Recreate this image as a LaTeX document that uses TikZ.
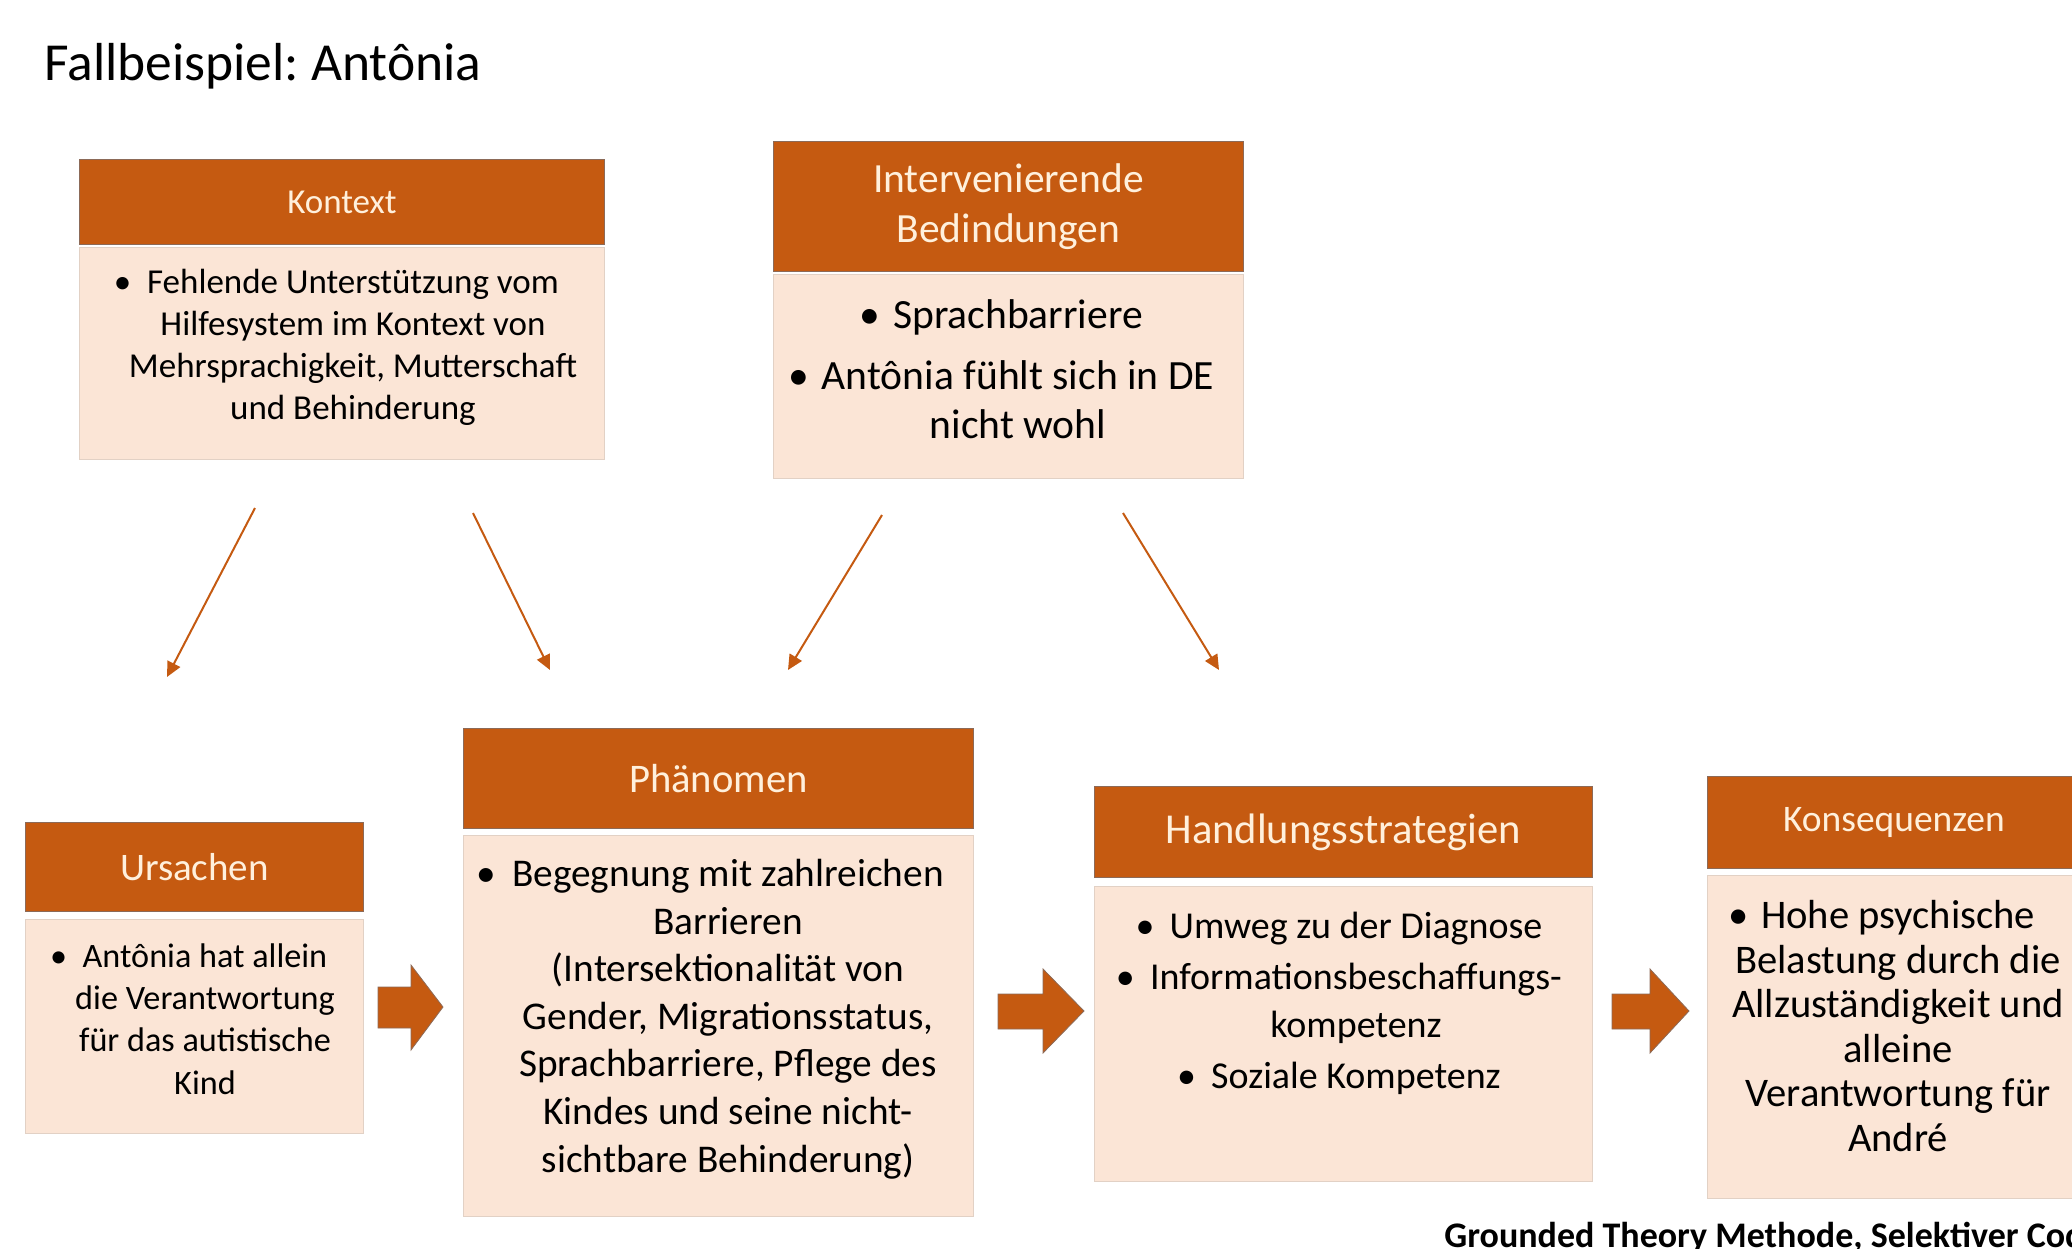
\documentclass[tikz,border=0pt]{standalone}
\usepackage{fontspec}
\setmainfont{Carlito}
\usetikzlibrary{arrows.meta}
\definecolor{hdr}{HTML}{C55A11}
\definecolor{bdy}{HTML}{FBE5D6}
\definecolor{htxt}{HTML}{FFF0DC}
\definecolor{edgec}{HTML}{8C6A58}
\newcommand{\itembul}[1][0.3em]{\llap{•\hspace{#1}}}
\frenchspacing
\tikzset{
  hbox/.style={draw=edgec, line width=0.4pt, fill=hdr, text=htxt, inner sep=0pt, align=center, anchor=north west},
  bbox/.style={fill=bdy, draw=bdy!80!gray, line width=0.3pt, inner sep=0pt, anchor=north west},
  btxt/.style={align=center, inner sep=0pt, text=black},
  thinarrow/.style={draw=hdr, line width=1pt, -{Triangle[length=7.5pt,width=7pt]}},
  blockarrow/.style={fill=hdr, draw=edgec, line width=0.4pt},
}
\begin{document}
\frenchspacing
\begin{tikzpicture}[x=0.5pt,y=-0.5pt]
\useasboundingbox (0,0) rectangle (2072,1248);
\clip (0,0) rectangle (2072,1248);

% title
\node[anchor=base west, inner sep=0pt, font=\fontsize{26.75pt}{32pt}\selectfont] (title) at (44,80) {Fallbeispiel: Antônia};

% Kontext
\node[hbox, minimum width=262.5pt, minimum height=42.5pt, font=\fontsize{17.5pt}{21pt}\selectfont] (kh) at (79,159) {Kontext};
\node[bbox, minimum width=262.5pt, minimum height=106pt] (kb) at (79,247) {};
\node[btxt, font=\fontsize{17.5pt}{21pt}\selectfont] (kt) at (353,347)
  {\itembul[0.45em]Fehlende Unterstützung vom\\Hilfesystem im Kontext von\\Mehrsprachigkeit, Mutterschaft\\und Behinderung};

% Intervenierende Bedingungen
\node[hbox, minimum width=235pt, minimum height=65pt, font=\fontsize{20.75pt}{25pt}\selectfont] (ih) at (773,141) {Intervenierende\\Bedindungen};
\node[bbox, minimum width=235pt, minimum height=102pt] (ib) at (773,274) {};
\node[btxt, font=\fontsize{20.8pt}{24.5pt}\selectfont] (it) at (1018,369)
  {\itembul Sprachbarriere\\[6pt]\itembul Antônia fühlt sich in DE\\nicht wohl};

% Ursachen
\node[hbox, minimum width=169pt, minimum height=44.5pt, font=\fontsize{19.5pt}{23pt}\selectfont] (uh) at (25,822) {Ursachen};
\node[bbox, minimum width=169pt, minimum height=107pt] (ub) at (25,919) {};
\node[btxt, font=\fontsize{17.1pt}{21.15pt}\selectfont] (ut) at (205,1019)
  {\itembul[0.45em]Antônia hat allein\\die Verantwortung\\für das autistische\\Kind};

% Phänomen
\node[hbox, minimum width=255pt, minimum height=50pt, font=\fontsize{20.3pt}{24pt}\selectfont] (ph) at (463,728) {Phänomen};
\node[bbox, minimum width=255pt, minimum height=190.5pt] (pb) at (463,835) {};
\node[btxt, font=\fontsize{19.65pt}{23.8pt}\selectfont] (pt) at (728,1019)
  {\itembul[0.4em]Begegnung mit zahlreichen\\Barrieren\\(Intersektionalität von\\Gender, Migrationsstatus,\\Sprachbarriere, Pflege des\\Kindes und seine nicht-\\sichtbare Behinderung)};

% Handlungsstrategien
\node[hbox, minimum width=249pt, minimum height=45.5pt, font=\fontsize{21.3pt}{25pt}\selectfont] (hh) at (1094,786) {Handlungsstrategien};
\node[bbox, minimum width=249pt, minimum height=147.5pt] (hb) at (1094,886) {};
\node[btxt, font=\fontsize{19pt}{24pt}\selectfont] (ht) at (1356,1003)
  {\itembul[0.4em]Umweg zu der Diagnose\\[1.5pt]\itembul[0.4em]Informationsbeschaffungs-\\kompetenz\\[1.5pt]\itembul[0.4em]Soziale Kompetenz};

% Konsequenzen
\node[hbox, minimum width=186.5pt, minimum height=46pt, font=\fontsize{18.75pt}{22pt}\selectfont] (qh) at (1707,776) {Konsequenzen};
\node[bbox, minimum width=186.5pt, minimum height=161.5pt] (qb) at (1707,875) {};
\node[btxt, font=\fontsize{20.3pt}{22.3pt}\selectfont] (qt) at (1898,1026)
  {\itembul Hohe psychische\\Belastung durch die\\Allzuständigkeit und\\alleine\\Verantwortung für\\André};

% footer
\node[anchor=base west, inner sep=0pt, font=\bfseries\fontsize{18pt}{21pt}\selectfont] (foot) at (1444,1247) {Grounded Theory Methode, Selektiver Cod};

% thin arrows
\coordinate (a1s) at (255,508); \coordinate (a1e) at (167,677);
\coordinate (a2s) at (473,513); \coordinate (a2e) at (550,670);
\coordinate (a3s) at (882,515); \coordinate (a3e) at (788,670);
\coordinate (a4s) at (1123,513); \coordinate (a4e) at (1219,670);
\draw[thinarrow] (a1s) -- (a1e);
\draw[thinarrow] (a2s) -- (a2e);
\draw[thinarrow] (a3s) -- (a3e);
\draw[thinarrow] (a4s) -- (a4e);

% block arrows
\draw[blockarrow] (378,987) -- (411,987) -- (411,965) -- (443,1007) -- (411,1050) -- (411,1028) -- (378,1028) -- cycle;
\draw[blockarrow] (998,994) -- (1043,994) -- (1043,969) -- (1084,1011) -- (1043,1053) -- (1043,1029) -- (998,1029) -- cycle;
\draw[blockarrow] (1612,994) -- (1650,994) -- (1650,969) -- (1689,1011) -- (1650,1053) -- (1650,1029) -- (1612,1029) -- cycle;
\end{tikzpicture}
\end{document}
